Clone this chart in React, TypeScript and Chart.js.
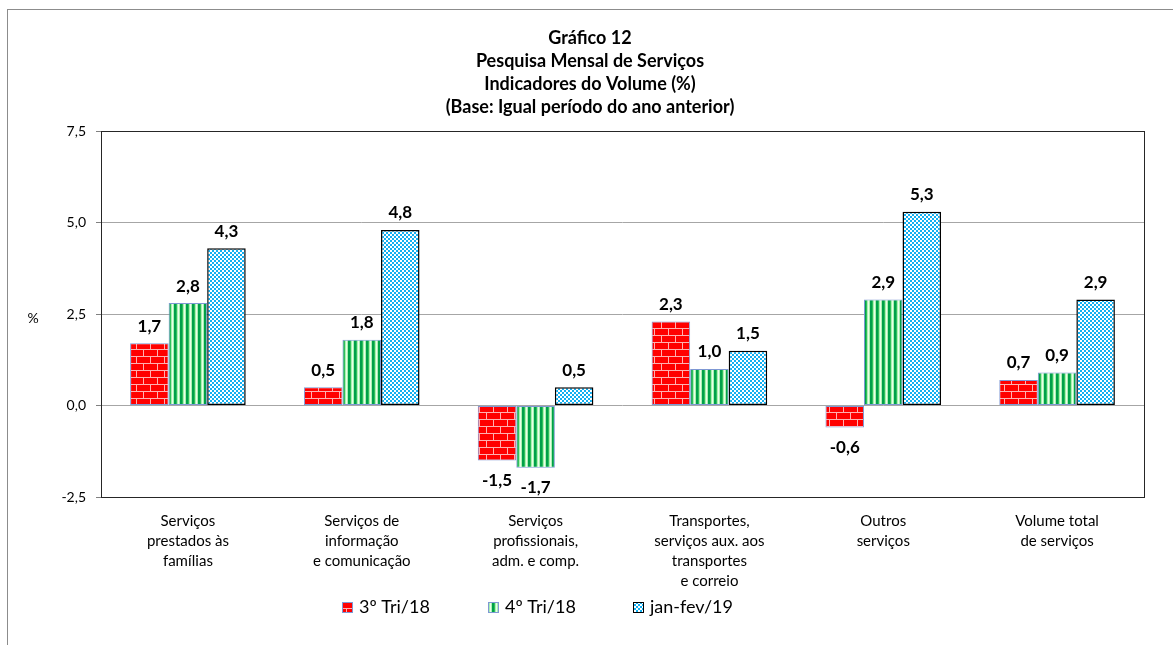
import React, { useEffect, useRef } from 'react';
import { Chart, registerables } from 'chart.js';

Chart.register(...registerables);

const FONT = 'Lato, "Open Sans", sans-serif';

const titleLines = [
  'Gráfico 12',
  'Pesquisa Mensal de Serviços',
  'Indicadores do Volume (%)',
  '(Base: Igual período do ano anterior)',
];
const categories = [
  ['Serviços', 'prestados às', 'famílias'],
  ['Serviços de', 'informação', 'e comunicação'],
  ['Serviços', 'profissionais,', 'adm. e comp.'],
  ['Transportes,', 'serviços aux. aos', 'transportes', 'e correio'],
  ['Outros', 'serviços'],
  ['Volume total', 'de serviços'],
];
const seriesLabels = ['3º Tri/18', '4º Tri/18', 'jan-fev/19'];
const tri3 = [1.7, 0.5, -1.5, 2.3, -0.6, 0.7];
const tri4 = [2.8, 1.8, -1.7, 1.0, 2.9, 0.9];
const janFev = [4.3, 4.8, 0.5, 1.5, 5.3, 2.9];
const yMin = -2.5;
const yMax = 7.5;
const yStep = 2.5;
const unitLabel = '%';

const fmt = (v: number) => v.toFixed(1).replace('.', ',');

function makeTile(w: number, h: number, draw: (g: CanvasRenderingContext2D) => void) {
  const c = document.createElement('canvas');
  c.width = w;
  c.height = h;
  const g = c.getContext('2d')!;
  draw(g);
  return g.createPattern(c, 'repeat')!;
}

function brickPattern() {
  return makeTile(14, 14, (g) => {
    g.fillStyle = '#ff0000';
    g.fillRect(0, 0, 14, 14);
    g.fillStyle = '#ffb0b0';
    g.fillRect(0, 6, 14, 1);
    g.fillRect(0, 13, 14, 1);
    g.fillRect(3, 0, 1, 6);
    g.fillRect(10, 7, 1, 6);
  });
}

function stripePattern() {
  const cols = ['#00a04a', '#00a04a', '#2fbf5c', '#aaf0b0', '#e8ffe8', '#aaf0b0'];
  return makeTile(6, 1, (g) => {
    cols.forEach((c, i) => {
      g.fillStyle = c;
      g.fillRect(i, 0, 1, 1);
    });
  });
}

function checkerPattern() {
  return makeTile(4, 4, (g) => {
    g.fillStyle = '#12b0f2';
    g.fillRect(0, 0, 4, 4);
    g.fillStyle = '#ffffff';
    g.fillRect(0, 0, 2, 2);
    g.fillRect(2, 2, 2, 2);
  });
}

const framePlugin = {
  id: 'frame',
  beforeDatasetsDraw(chart: any) {
    const { ctx, chartArea } = chart;
    ctx.save();
    ctx.strokeStyle = '#262626';
    ctx.lineWidth = 1;
    ctx.strokeRect(
      Math.round(chartArea.left) + 0.5,
      Math.round(chartArea.top) + 0.5,
      Math.round(chartArea.right - chartArea.left),
      Math.round(chartArea.bottom - chartArea.top)
    );
    ctx.restore();
  },
};

const valuePlugin = {
  id: 'values',
  afterDatasetsDraw(chart: any) {
    const ctx = chart.ctx;
    ctx.save();
    ctx.font = `bold 17px ${FONT}`;
    ctx.fillStyle = '#000';
    ctx.textAlign = 'center';
    ctx.textBaseline = 'middle';
    chart.data.datasets.forEach((ds: any, i: number) => {
      chart.getDatasetMeta(i).data.forEach((el: any, j: number) => {
        const v = ds.data[j] as number;
        const y = v >= 0 ? el.y - 17 : el.y + 20;
        ctx.fillText(fmt(v), el.x, y);
      });
    });
    ctx.restore();
  },
};

const unitPlugin = {
  id: 'unit',
  afterDraw(chart: any) {
    const { ctx, chartArea } = chart;
    ctx.save();
    ctx.font = `14px ${FONT}`;
    ctx.fillStyle = '#000';
    ctx.textAlign = 'center';
    ctx.textBaseline = 'middle';
    ctx.fillText(unitLabel, chartArea.left - 68, (chartArea.top + chartArea.bottom) / 2 + 4);
    ctx.restore();
  },
};

const shiftTitlePlugin = {
  id: 'shiftTitle',
  afterLayout(chart: any) {
    const t = chart.titleBlock;
    if (t) {
      t.left += 18;
      t.right += 18;
    }
  },
};

const legendPlugin = {
  id: 'patternLegend',
  afterDraw(chart: any) {
    const { ctx, chartArea } = chart;
    ctx.save();
    ctx.font = `18px ${FONT}`;
    const box = 11;
    const gap = 6;
    const spacing = 58;
    const items = chart.data.datasets.map((ds: any) => ({
      ds,
      w: box + gap + ctx.measureText(ds.label).width,
    }));
    const total =
      items.reduce((s: number, it: any) => s + it.w, 0) + spacing * (items.length - 1);
    let x = (chartArea.left + chartArea.right) / 2 - 85 - total / 2;
    const y = chartArea.bottom + 110;
    ctx.textBaseline = 'middle';
    ctx.textAlign = 'left';
    items.forEach((it: any) => {
      const bx = Math.round(x);
      const by = Math.round(y - box / 2);
      ctx.fillStyle = it.ds.backgroundColor;
      ctx.fillRect(bx, by, box, box);
      ctx.strokeStyle = it.ds.borderColor;
      ctx.lineWidth = 1;
      ctx.strokeRect(bx + 0.5, by + 0.5, box - 1, box - 1);
      ctx.fillStyle = '#000';
      ctx.fillText(it.ds.label, bx + box + gap, y);
      x += it.w + spacing;
    });
    ctx.restore();
  },
};

export default function App() {
  const ref = useRef<HTMLCanvasElement>(null);

  useEffect(() => {
    const canvas = ref.current!;
    const patterns = [brickPattern(), stripePattern(), checkerPattern()];
    const borders = ['#7f98d4', '#7f98d4', '#000000'];
    const borderWidths = [1, 1, 1.5];
    const values = [tri3, tri4, janFev];

    const chart = new Chart(canvas, {
      type: 'bar',
      data: {
        labels: categories,
        datasets: seriesLabels.map((label, i) => ({
          label,
          data: values[i],
          backgroundColor: patterns[i] as any,
          borderColor: borders[i],
          borderWidth: borderWidths[i],
          borderSkipped: false,
          categoryPercentage: 0.665,
          barPercentage: 1,
        })),
      },
      options: {
        animation: false,
        responsive: false,
        layout: { padding: { left: 0, right: 29, top: 0, bottom: 55 } },
        plugins: {
          legend: { display: false },
          tooltip: { enabled: false },
          title: {
            display: true,
            text: titleLines,
            color: '#000',
            font: { family: FONT, size: 18, weight: 'bold', lineHeight: 1.28 },
            padding: { top: 27, bottom: 12 },
          },
        },
        scales: {
          x: {
            grid: { display: false, drawTicks: false },
            border: { display: false },
            ticks: {
              color: '#000',
              font: { family: FONT, size: 15, lineHeight: 1.33 },
              padding: 14,
              maxRotation: 0,
              autoSkip: false,
            },
            afterFit: (s: any) => {
              s.height = 93;
            },
          },
          y: {
            min: yMin,
            max: yMax,
            ticks: {
              stepSize: yStep,
              color: '#000',
              font: { family: FONT, size: 14 },
              padding: 10,
              callback: (v: any) => fmt(Number(v)),
            },
            grid: { color: '#a6a6a6', tickLength: 5, tickColor: '#808080' },
            border: { display: false },
            afterFit: (s: any) => {
              s.width = 101;
            },
          },
        },
      },
      plugins: [framePlugin, valuePlugin, unitPlugin, shiftTitlePlugin, legendPlugin],
    });
    return () => chart.destroy();
  }, []);

  return (
    <div
      style={{
        position: 'fixed',
        left: 0,
        top: 0,
        width: 1173,
        height: 645,
        overflow: 'hidden',
        background: '#fff',
      }}
    >
      <canvas ref={ref} width={1173} height={645} style={{ display: 'block' }} />
      <div
        style={{
          position: 'absolute',
          left: 7,
          top: 9,
          width: 1200,
          height: 700,
          border: '1px solid #8c8c8c',
          pointerEvents: 'none',
        }}
      />
    </div>
  );
}
